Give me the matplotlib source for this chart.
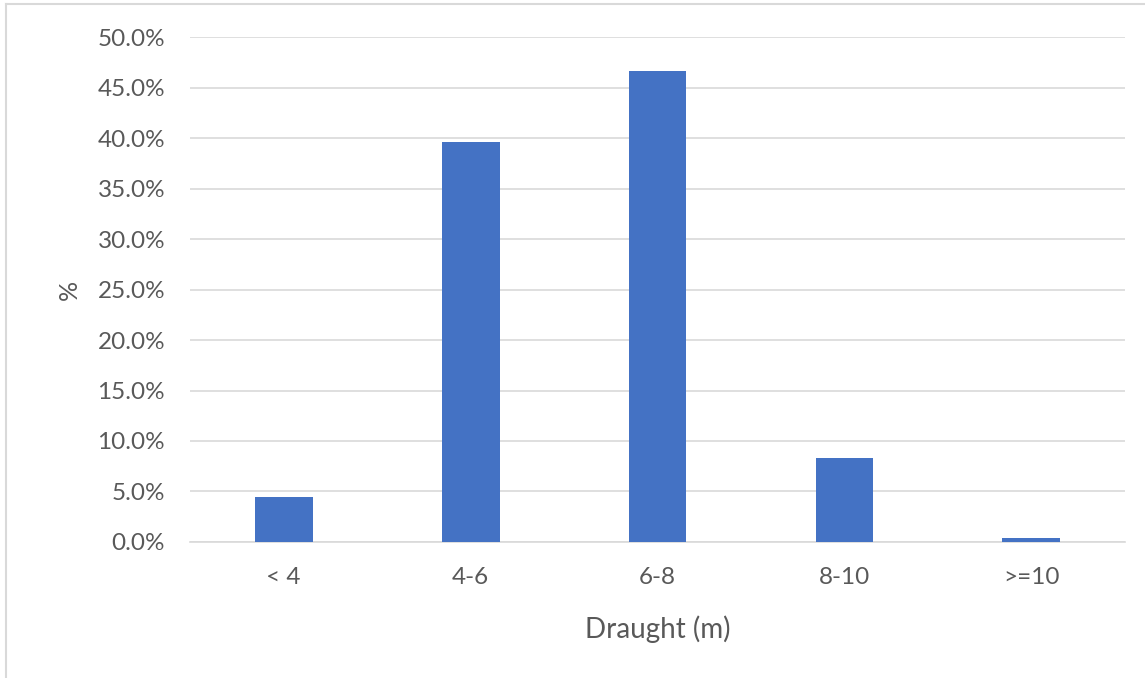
import matplotlib.pyplot as plt
from matplotlib.lines import Line2D
from matplotlib.ticker import FuncFormatter

categories = ['< 4', '4-6', '6-8', '8-10', '>=10']
shares = [4.5, 39.6, 46.6, 8.3, 0.35]
y_ticks = [0, 5, 10, 15, 20, 25, 30, 35, 40, 45, 50]

plt.rcParams['font.family'] = ['Lato', 'DejaVu Sans']

def make_plot():
    fig = plt.figure(figsize=(11.45, 6.78), dpi=100)
    ax = fig.add_axes([0.166, 0.2006, 0.8165, 0.7448])

    ax.bar(range(len(categories)), shares, width=0.31, color='#4472c4', zorder=3)

    ax.set_xlim(-0.5, len(categories) - 0.5)
    ax.set_ylim(0, 50)
    ax.set_yticks(y_ticks)
    ax.yaxis.set_major_formatter(FuncFormatter(lambda v, p: f'{v:.1f}%'))
    ax.set_xticks(range(len(categories)))
    ax.set_xticklabels(categories)

    ax.grid(axis='y', color='#d9d9d9', linewidth=1.2, zorder=0)
    for s in ['top', 'right', 'left']:
        ax.spines[s].set_visible(False)
    ax.spines['bottom'].set_color('#d9d9d9')
    ax.spines['bottom'].set_linewidth(1.2)
    ax.tick_params(length=0, labelsize=17.5, colors='#595959')
    ax.tick_params(axis='x', pad=18)
    ax.tick_params(axis='y', pad=18)

    ax.set_xlabel('Draught (m)', fontsize=20, color='#595959', labelpad=20)
    ax.set_ylabel('%', fontsize=18, color='#595959', labelpad=12)

    # chart frame (left and top edges visible)
    fig.add_artist(Line2D([6 / 1145, 6 / 1145], [0, 1 - 4 / 678],
                          transform=fig.transFigure, color='#d9d9d9', linewidth=1.5))
    fig.add_artist(Line2D([6 / 1145, 1], [1 - 4 / 678, 1 - 4 / 678],
                          transform=fig.transFigure, color='#d9d9d9', linewidth=1.5))

    plt.savefig('out.png', dpi=100)

if __name__ == '__main__':
    make_plot()
